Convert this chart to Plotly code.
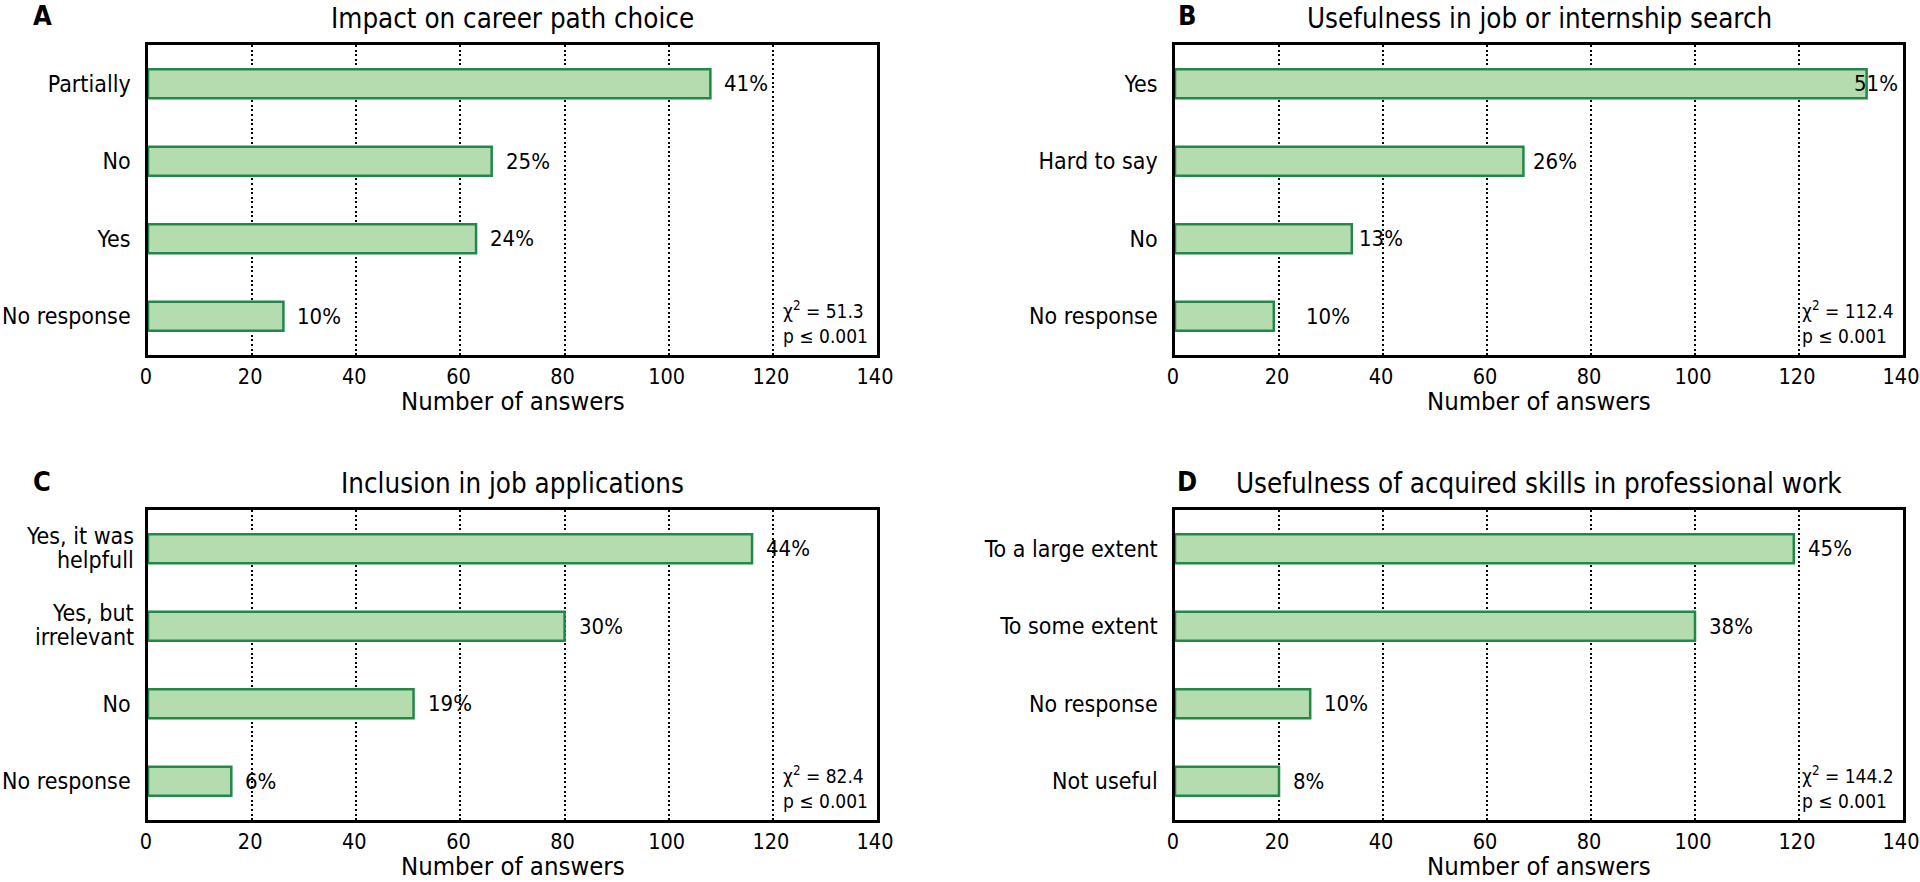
import plotly.graph_objects as go

# ---------------- data ----------------
titles = ["Impact on career path choice",
          "Usefulness in job or internship search",
          "Inclusion in job applications",
          "Usefulness of acquired skills in professional work"]
letters = ["A", "B", "C", "D"]

cats_a = ["Partially", "No", "Yes", "No response"]
vals_a = [108, 66, 63, 26]
pcts_a = ["41%", "25%", "24%", "10%"]

cats_b = ["Yes", "Hard to say", "No", "No response"]
vals_b = [133, 67, 34, 19]
pcts_b = ["51%", "26%", "13%", "10%"]

cats_c = ["Yes, it was helpfull", "Yes, but irrelevant", "No", "No response"]
vals_c = [116, 80, 51, 16]
pcts_c = ["44%", "30%", "19%", "6%"]

cats_d = ["To a large extent", "To some extent", "No response", "Not useful"]
vals_d = [119, 100, 26, 20]
pcts_d = ["45%", "38%", "10%", "8%"]

chi_vals = ["51.3", "112.4", "82.4", "144.2"]
p_text = "p ≤ 0.001"
x_ticks = [0, 20, 40, 60, 80, 100, 120, 140]
x_title = "Number of answers"

# two-line category labels (drawn as stacked text)
wrapped = {"Yes, it was helpfull": ["Yes, it was", "helpfull"],
           "Yes, but irrelevant": ["Yes, but", "irrelevant"]}

# ---------------- style ----------------
FONT = "DejaVu Sans Condensed, Liberation Sans Narrow, sans-serif"
FILL = "#b4dcae"
EDGE = "#22874a"
W, H = 1920, 882
# plot boxes in pixels: (x0, x1, y0, y1) with y from top
boxes = [(148, 877, 45, 355), (1175, 1903, 45, 355),
         (148, 877, 510, 820), (1175, 1903, 510, 820)]
letter_x = [42, 1187, 42, 1187]
label_shift = [[12, 12, 12, 12], [-15, 8, 5, 30], [12, 12, 12, 12], [12, 12, 12, 12]]


def px(x):
    return x / W


def py(y):
    return 1 - y / H


panels = [(cats_a, vals_a, pcts_a), (cats_b, vals_b, pcts_b),
          (cats_c, vals_c, pcts_c), (cats_d, vals_d, pcts_d)]

fig = go.Figure()
annotations = []

for i, ((cats, vals, pcts), box) in enumerate(zip(panels, boxes)):
    n = i + 1
    xa = "x" if n == 1 else f"x{n}"
    ya = "y" if n == 1 else f"y{n}"
    fig.add_trace(go.Bar(
        x=vals, y=cats, orientation="h", xaxis=xa, yaxis=ya,
        marker=dict(color=FILL, line=dict(color=EDGE, width=2.5)),
        width=0.375, showlegend=False, hoverinfo="x+y"))
    x0, x1, y0, y1 = box
    dom_x = [px(x0), px(x1)]
    dom_y = [py(y1), py(y0)]
    plain = [c for c in cats if c not in wrapped]
    axx = dict(domain=dom_x, anchor=ya, range=[0, 140], tickvals=x_ticks,
               showgrid=True, gridcolor="black", gridwidth=2, griddash="2px,2.6px",
               zeroline=False, showline=True, linecolor="black", linewidth=2.5,
               mirror=True, ticks="", ticklabelstandoff=0, automargin=False,
               ticklabeloverflow="allow", ticklabelshift=-2,
               tickfont=dict(family=FONT, size=21.5, color="black"))
    axy = dict(domain=dom_y, anchor=xa, type="category", categoryorder="array",
               categoryarray=cats, autorange="reversed", tickvals=plain,
               ticktext=plain, showline=True, linecolor="black", linewidth=2.5,
               mirror=True, ticks="", ticklabelstandoff=10, showgrid=False,
               automargin=False, zeroline=False, ticklabeloverflow="allow",
               tickfont=dict(family=FONT, size=23, color="black"))
    fig.layout[f"xaxis{'' if n == 1 else n}"] = axx
    fig.layout[f"yaxis{'' if n == 1 else n}"] = axy

    for c in cats:
        if c in wrapped:
            top, bot = wrapped[c]
            for txt, sh in ((top, 13), (bot, -11)):
                annotations.append(dict(
                    text=txt, x=0, xref=f"{xa} domain", y=c, yref=ya,
                    xanchor="right", yanchor="middle", xshift=-12, yshift=sh,
                    showarrow=False, font=dict(family=FONT, size=23, color="black")))

    for c, v, p, s in zip(cats, vals, pcts, label_shift[i]):
        annotations.append(dict(
            text=p, x=v, xref=xa, y=c, yref=ya, xanchor="left", yanchor="middle",
            xshift=s, showarrow=False, font=dict(family=FONT, size=22, color="black")))

    annotations.append(dict(
        text=f"χ<sup>2</sup> = {chi_vals[i]}<br>{p_text}", align="left",
        x=1, xref=f"{xa} domain", y=0, yref=f"{ya} domain",
        xanchor="right", yanchor="bottom", xshift=-7, yshift=6,
        showarrow=False, font=dict(family=FONT, size=19, color="black")))

    annotations.append(dict(
        text=titles[i], x=(dom_x[0] + dom_x[1]) / 2, xref="paper",
        y=py(y0 - 27), yref="paper", xanchor="center", yanchor="middle",
        showarrow=False, font=dict(family=FONT, size=27.5, color="black")))
    annotations.append(dict(
        text=x_title, x=(dom_x[0] + dom_x[1]) / 2, xref="paper",
        y=py(y1 + 46), yref="paper", xanchor="center", yanchor="middle",
        showarrow=False, font=dict(family=FONT, size=25.5, color="black")))
    annotations.append(dict(
        text=f"<b>{letters[i]}</b>", x=px(letter_x[i]), xref="paper",
        y=py(y0 - 29), yref="paper", xanchor="center", yanchor="middle",
        showarrow=False, font=dict(family=FONT, size=27, color="black")))

fig.update_layout(width=W, height=H, margin=dict(l=0, r=0, t=0, b=0),
                  paper_bgcolor="white", plot_bgcolor="white",
                  annotations=annotations, bargap=0.6)
fig.write_html("out.html", config={"displayModeBar": False},
               post_script="document.body.style.margin='0px';"
                           "document.body.style.padding='0px';"
                           "document.documentElement.style.overflow='hidden';")
